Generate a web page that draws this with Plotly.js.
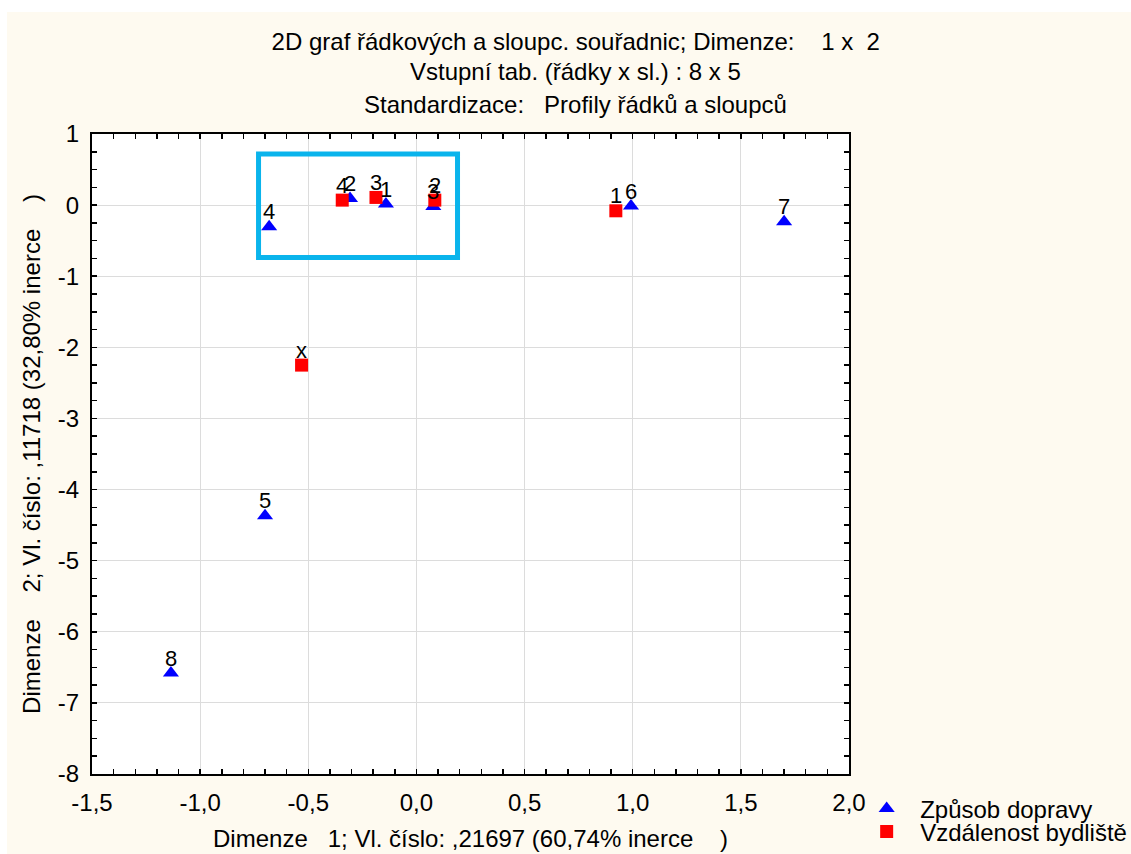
<!DOCTYPE html>
<html>
<head>
<meta charset="utf-8">
<script src="https://cdn.plot.ly/plotly-3.0.1.min.js"></script>
<style>
html, body { margin:0; padding:0; background:#ffffff; width:1131px; height:854px; overflow:hidden; }
#chart { position:absolute; left:7px; top:12px; width:1124px; height:842px; }
</style>
</head>
<body>
<div id="chart"></div>
<script>
// Series: Způsob dopravy (blue triangles)
var transportLabels = ['1','2','3','4','5','6','7','8'];
var transportX = [-0.141, -0.307, 0.078, -0.681, -0.700, 0.992, 1.700, -1.135];
var transportY = [0.014, 0.094, -0.020, -0.305, -4.370, -0.014, -0.235, -6.580];

// Series: Vzdálenost bydliště (red squares)
var distanceLabels = ['1','2','3','4','x'];
var distanceX = [0.922, 0.085, -0.187, -0.343, -0.531];
var distanceY = [-0.080, 0.070, 0.108, 0.070, -2.250];

// Axis ticks
var xTickVals = [-1.5, -1.0, -0.5, 0.0, 0.5, 1.0, 1.5, 2.0];
var xTickText = ['-1,5', '-1,0', '-0,5', '0,0', '0,5', '1,0', '1,5', '2,0'];
var yTickVals = [1, 0, -1, -2, -3, -4, -5, -6, -7, -8];
var yTickText = ['1', '0', '-1', '-2', '-3', '-4', '-5', '-6', '-7', '-8'];

// Highlight rectangle bounds [x0, x1, y0, y1]
var highlightBox = [-0.73, 0.19, -0.735, 0.72];

var NB = '\u00a0';
var FONT = 'Arial, "Liberation Sans", sans-serif';
var FS = 24;

var traces = [
  {
    type: 'scatter', mode: 'markers', name: 'Způsob dopravy',
    x: transportX, y: transportY,
    marker: {symbol: 'triangle-up', size: 14, color: '#0000ff'},
    cliponaxis: false, legend: 'legend'
  },
  {
    type: 'scatter', mode: 'markers', name: 'Vzdálenost bydliště',
    x: distanceX, y: distanceY,
    marker: {symbol: 'square', size: 13, color: '#ff0000'},
    cliponaxis: false, legend: 'legend2'
  }
];

function pointLabels(xs, ys, labels) {
  return labels.map(function (t, i) {
    return {text: t, x: xs[i], y: ys[i], xref: 'x', yref: 'y',
            xanchor: 'center', yanchor: 'middle', yshift: 15, showarrow: false,
            font: {family: FONT, size: 22, color: '#000000'}};
  });
}

var annotations = [
  {text: 'Vstupní tab. (řádky x sl.) : 8 x 5', xref: 'paper', yref: 'paper',
   x: 0.639, y: (774-72)/640, xanchor: 'center', yanchor: 'middle', showarrow: false,
   font: {family: FONT, size: FS, color: '#000000'}},
  {text: 'Standardizace:' + NB+NB+NB + 'Profily řádků a sloupců', xref: 'paper', yref: 'paper',
   x: 0.639, y: (774-105)/640, xanchor: 'center', yanchor: 'middle', showarrow: false,
   font: {family: FONT, size: FS, color: '#000000'}}
].concat(pointLabels(transportX, transportY, transportLabels))
 .concat(pointLabels(distanceX, distanceY, distanceLabels));

var legendCommon = {
  xanchor: 'left', yanchor: 'middle',
  bgcolor: 'rgba(0,0,0,0)', borderwidth: 0,
  font: {family: FONT, size: FS, color: '#000000'},
  itemwidth: 57
};

var layout = {
  width: 1124, height: 842,
  margin: {l: 85, r: 282, t: 122, b: 80, autoexpand: false},
  paper_bgcolor: '#fefaf0',
  plot_bgcolor: '#ffffff',
  font: {family: FONT, size: FS, color: '#000000'},
  title: {
    text: '2D graf řádkových a sloupc. souřadnic; Dimenze:' + NB+NB+NB+NB + '1 x' + NB+NB + '2',
    font: {family: FONT, size: FS, color: '#000000'},
    x: 0.506, xanchor: 'center', xref: 'container',
    y: 1 - 30/842, yanchor: 'middle', yref: 'container'
  },
  annotations: annotations,
  xaxis: {
    range: [-1.5, 2.0],
    tickvals: xTickVals, ticktext: xTickText,
    showgrid: true, gridcolor: '#dcdcdc', gridwidth: 1,
    zeroline: false,
    showline: true, linecolor: '#000000', linewidth: 2, mirror: 'allticks',
    ticks: 'inside', ticklen: 5, tickwidth: 1.5, tickcolor: '#000000',
    minor: {dtick: 0.1, tick0: 0, ticks: 'inside', ticklen: 5, tickwidth: 1.5, tickcolor: '#000000', showgrid: false},
    tickfont: {family: FONT, size: FS, color: '#000000'},
    ticklabelstandoff: 6,
    title: {text: 'Dimenze' + NB+NB+NB + '1; Vl. číslo: ,21697 (60,74% inerce' + NB+NB+NB+NB + ')',
            font: {family: FONT, size: FS, color: '#000000'}, standoff: 15}
  },
  yaxis: {
    range: [-8, 1],
    tickvals: yTickVals, ticktext: yTickText,
    showgrid: true, gridcolor: '#dcdcdc', gridwidth: 1,
    zeroline: false,
    showline: true, linecolor: '#000000', linewidth: 2, mirror: 'allticks',
    ticks: 'inside', ticklen: 5, tickwidth: 1.5, tickcolor: '#000000',
    minor: {dtick: 0.25, tick0: 0, ticks: 'inside', ticklen: 5, tickwidth: 1.5, tickcolor: '#000000', showgrid: false},
    tickfont: {family: FONT, size: FS, color: '#000000'},
    ticklabelstandoff: 6,
    title: {text: 'Dimenze' + NB+NB+NB+NB + '2; Vl. číslo: ,11718 (32,80% inerce' + NB+NB+NB+NB + ')',
            font: {family: FONT, size: FS, color: '#000000'}, standoff: 10}
  },
  shapes: [
    {type: 'rect', xref: 'x', yref: 'y',
     x0: highlightBox[0], x1: highlightBox[1], y0: highlightBox[2], y1: highlightBox[3],
     line: {color: '#0ab4ec', width: 5}, fillcolor: 'rgba(0,0,0,0)', layer: 'above'}
  ],
  showlegend: true,
  legend: Object.assign({x: 1.0055, y: (774-809)/640}, legendCommon),
  legend2: Object.assign({x: 1.0055, y: (774-832)/640}, legendCommon)
};

Plotly.newPlot('chart', traces, layout, {displayModeBar: false, staticPlot: true});
</script>
</body>
</html>
